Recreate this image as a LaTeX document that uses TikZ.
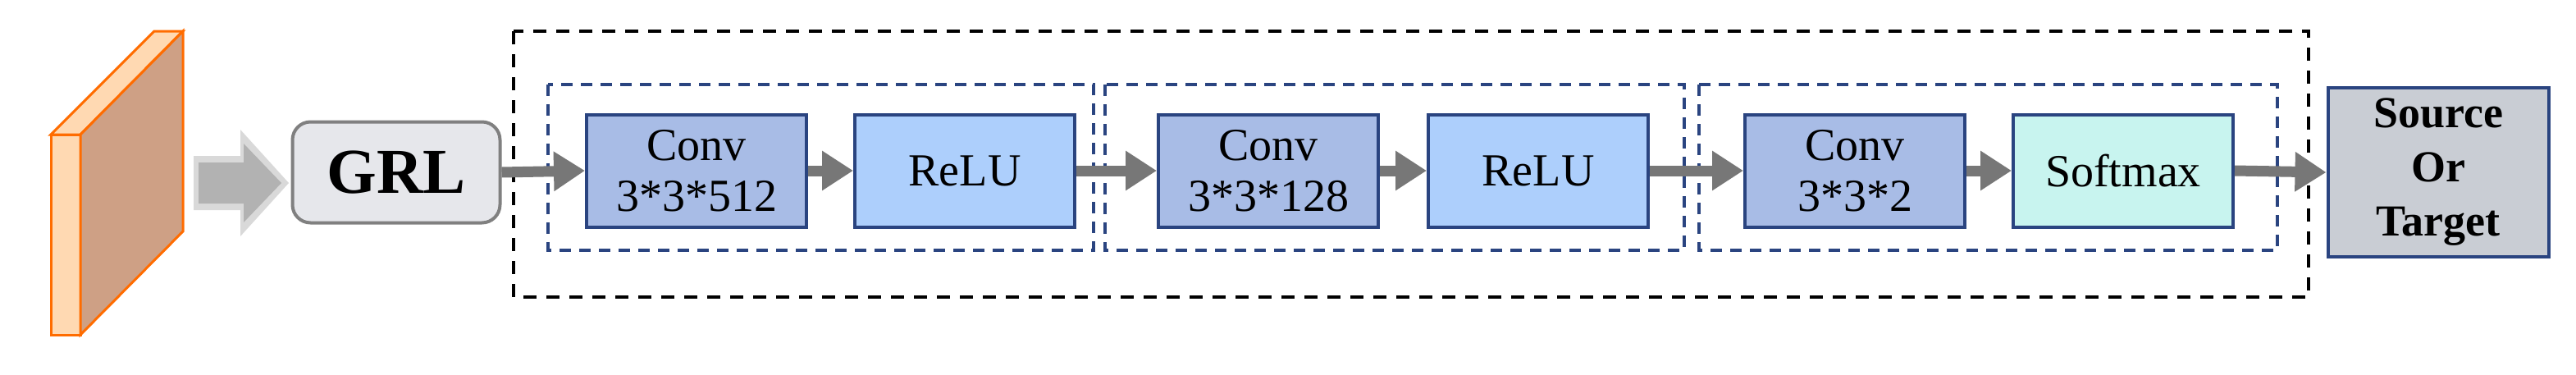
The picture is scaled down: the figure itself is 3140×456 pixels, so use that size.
\documentclass[tikz,border=0pt]{standalone}
\usepackage{fontspec}
\setmainfont{Liberation Serif}
\usetikzlibrary{arrows.meta}
\definecolor{dblue}{HTML}{2A4480}
\definecolor{convc}{HTML}{A8BCE6}
\definecolor{reluc}{HTML}{ADCFFC}
\definecolor{softc}{HTML}{C8F4EF}
\definecolor{outc}{HTML}{C9CDD4}
\definecolor{grlc}{HTML}{E6E7EB}
\definecolor{arr}{HTML}{777777}
\begin{document}
\begin{tikzpicture}[x=1pt,y=-1pt,
  blk/.style={draw=dblue,line width=4pt,minimum width=268pt,minimum height=137pt,inner sep=0pt,align=center,font=\fontsize{56}{62}\selectfont},
  conn/.style={draw=arr,line width=13pt,-{Triangle[length=38pt,width=46pt]}},
  grp/.style={draw=dblue,line width=3.5pt,dash pattern=on 14pt off 10pt},
]
\useasboundingbox (0,0) rectangle (3140,456);
% slab
\draw[draw=orange!85!red,line width=3pt,fill=orange!30!white] (62,164) -- (98,164) -- (223,38) -- (188,38) -- cycle;
\draw[draw=orange!85!red,line width=3pt,fill=orange!30!white] (62,164) rectangle (98,408);
\draw[draw=orange!85!red,line width=3pt,fill={rgb,255:red,206;green,160;blue,133}] (98,164) -- (223,38) -- (223,282) -- (98,408) -- cycle;
% big arrow
\fill[gray!30] (236,190) -- (293,190) -- (293,158) -- (352,223) -- (293,288) -- (293,256) -- (236,256) -- cycle;
\fill[gray!60] (242,198) -- (297,198) -- (297,175) -- (343,223) -- (297,271) -- (297,248) -- (242,248) -- cycle;
\node[draw=gray,line width=4pt,fill=grlc,rounded corners=22pt,minimum width=253pt,minimum height=123pt,font=\bfseries\fontsize{78}{80}\selectfont] (grl) at (483,210) {GRL};
% groups
\draw[black,line width=4pt,dash pattern=on 16pt off 12pt] (626,38) rectangle (2814,362);
\draw[grp] (668,103) rectangle (1333,305);
\draw[grp] (1347,103) rectangle (2053,305);
\draw[grp] (2071,103) rectangle (2776,305);
% blocks
\node[blk,fill=convc] (c1) at (849,208) {Conv\\3*3*512};
\node[blk,fill=reluc] (r1) at (1176,208) {ReLU};
\node[blk,fill=convc] (c2) at (1546,208) {Conv\\3*3*128};
\node[blk,fill=reluc] (r2) at (1875,208) {ReLU};
\node[blk,fill=convc] (c3) at (2261,208) {Conv\\3*3*2};
\node[blk,fill=softc] (s) at (2588,208) {Softmax};
\node[blk,fill=outc,minimum width=269pt,minimum height=206pt,font=\bfseries\fontsize{54}{66}\selectfont] (o) at (2972,210) {Source\\Or\\Target};
% connectors
\draw[conn] (grl.east) -- (c1.west);
\draw[conn] (c1.east) -- (r1.west);
\draw[conn] (r1.east) -- (c2.west);
\draw[conn] (c2.east) -- (r2.west);
\draw[conn] (r2.east) -- (c3.west);
\draw[conn] (c3.east) -- (s.west);
\draw[conn] (s.east) -- (o.west);
\end{tikzpicture}
\end{document}
